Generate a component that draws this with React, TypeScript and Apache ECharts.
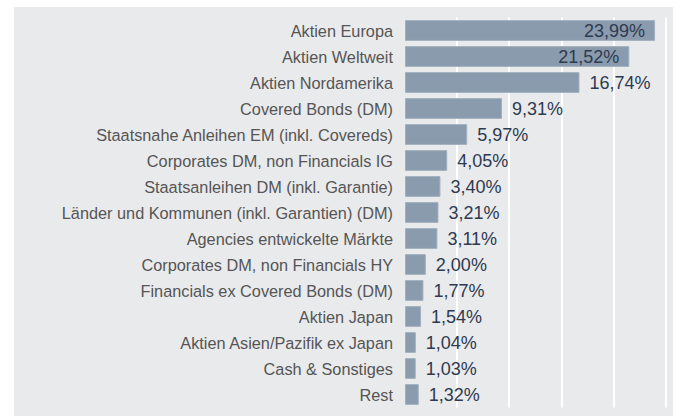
import React, { useEffect, useRef } from "react";
import * as echarts from "echarts";

const categories = [
  "Aktien Europa",
  "Aktien Weltweit",
  "Aktien Nordamerika",
  "Covered Bonds (DM)",
  "Staatsnahe Anleihen EM (inkl. Covereds)",
  "Corporates DM, non Financials IG",
  "Staatsanleihen DM (inkl. Garantie)",
  "Länder und Kommunen (inkl. Garantien) (DM)",
  "Agencies entwickelte Märkte",
  "Corporates DM, non Financials HY",
  "Financials ex Covered Bonds (DM)",
  "Aktien Japan",
  "Aktien Asien/Pazifik ex Japan",
  "Cash & Sonstiges",
  "Rest",
];
const values = [23.99, 21.52, 16.74, 9.31, 5.97, 4.05, 3.4, 3.21, 3.11, 2.0, 1.77, 1.54, 1.04, 1.03, 1.32];
const insideLabelThreshold = 20;

export default function App() {
  const ref = useRef<HTMLDivElement>(null);
  useEffect(() => {
    const chart = echarts.init(ref.current!, null, { renderer: "svg" });
    chart.setOption({
      animation: false,
      backgroundColor: "#ffffff",
      graphic: [
        {
          type: "rect",
          z: -10,
          silent: true,
          shape: { x: 14, y: 7, width: 659, height: 409 },
          style: { fill: "#e9eaec" },
        },
      ],
      grid: { left: 405, right: 0, top: 17.5, bottom: 8.5, containLabel: false },
      xAxis: {
        type: "value",
        min: 0,
        max: 26,
        interval: 5,
        axisLabel: { show: false },
        axisLine: { show: false },
        axisTick: { show: false },
        splitLine: {
          show: true,
          showMinLine: false,
          showMaxLine: false,
          lineStyle: { color: "#ffffff", width: 2 },
        },
      },
      yAxis: {
        type: "category",
        inverse: true,
        data: categories,
        axisLine: { show: false },
        axisTick: { show: false },
        axisLabel: {
          margin: 12,
          fontFamily: "Liberation Sans",
          fontSize: 16.3,
          color: "#555555",
        },
      },
      series: [
        {
          type: "bar",
          barCategoryGap: "20%",
          itemStyle: { color: "#8a9bad", borderColor: "#a3b0bf", borderWidth: 1 },
          data: values.map((v) => ({
            value: v,
            label: {
              show: true,
              position: v > insideLabelThreshold ? "insideRight" : "right",
              distance: 10,
              formatter: () => v.toFixed(2).replace(".", ",") + "%",
              fontFamily: "Liberation Sans",
              fontSize: 18,
              color: "#2e3a50",
            },
          })),
        },
      ],
    });
    return () => chart.dispose();
  }, []);
  return (
    <div
      ref={ref}
      style={{ position: "absolute", left: 0, top: 0, width: 676, height: 416 }}
    />
  );
}
